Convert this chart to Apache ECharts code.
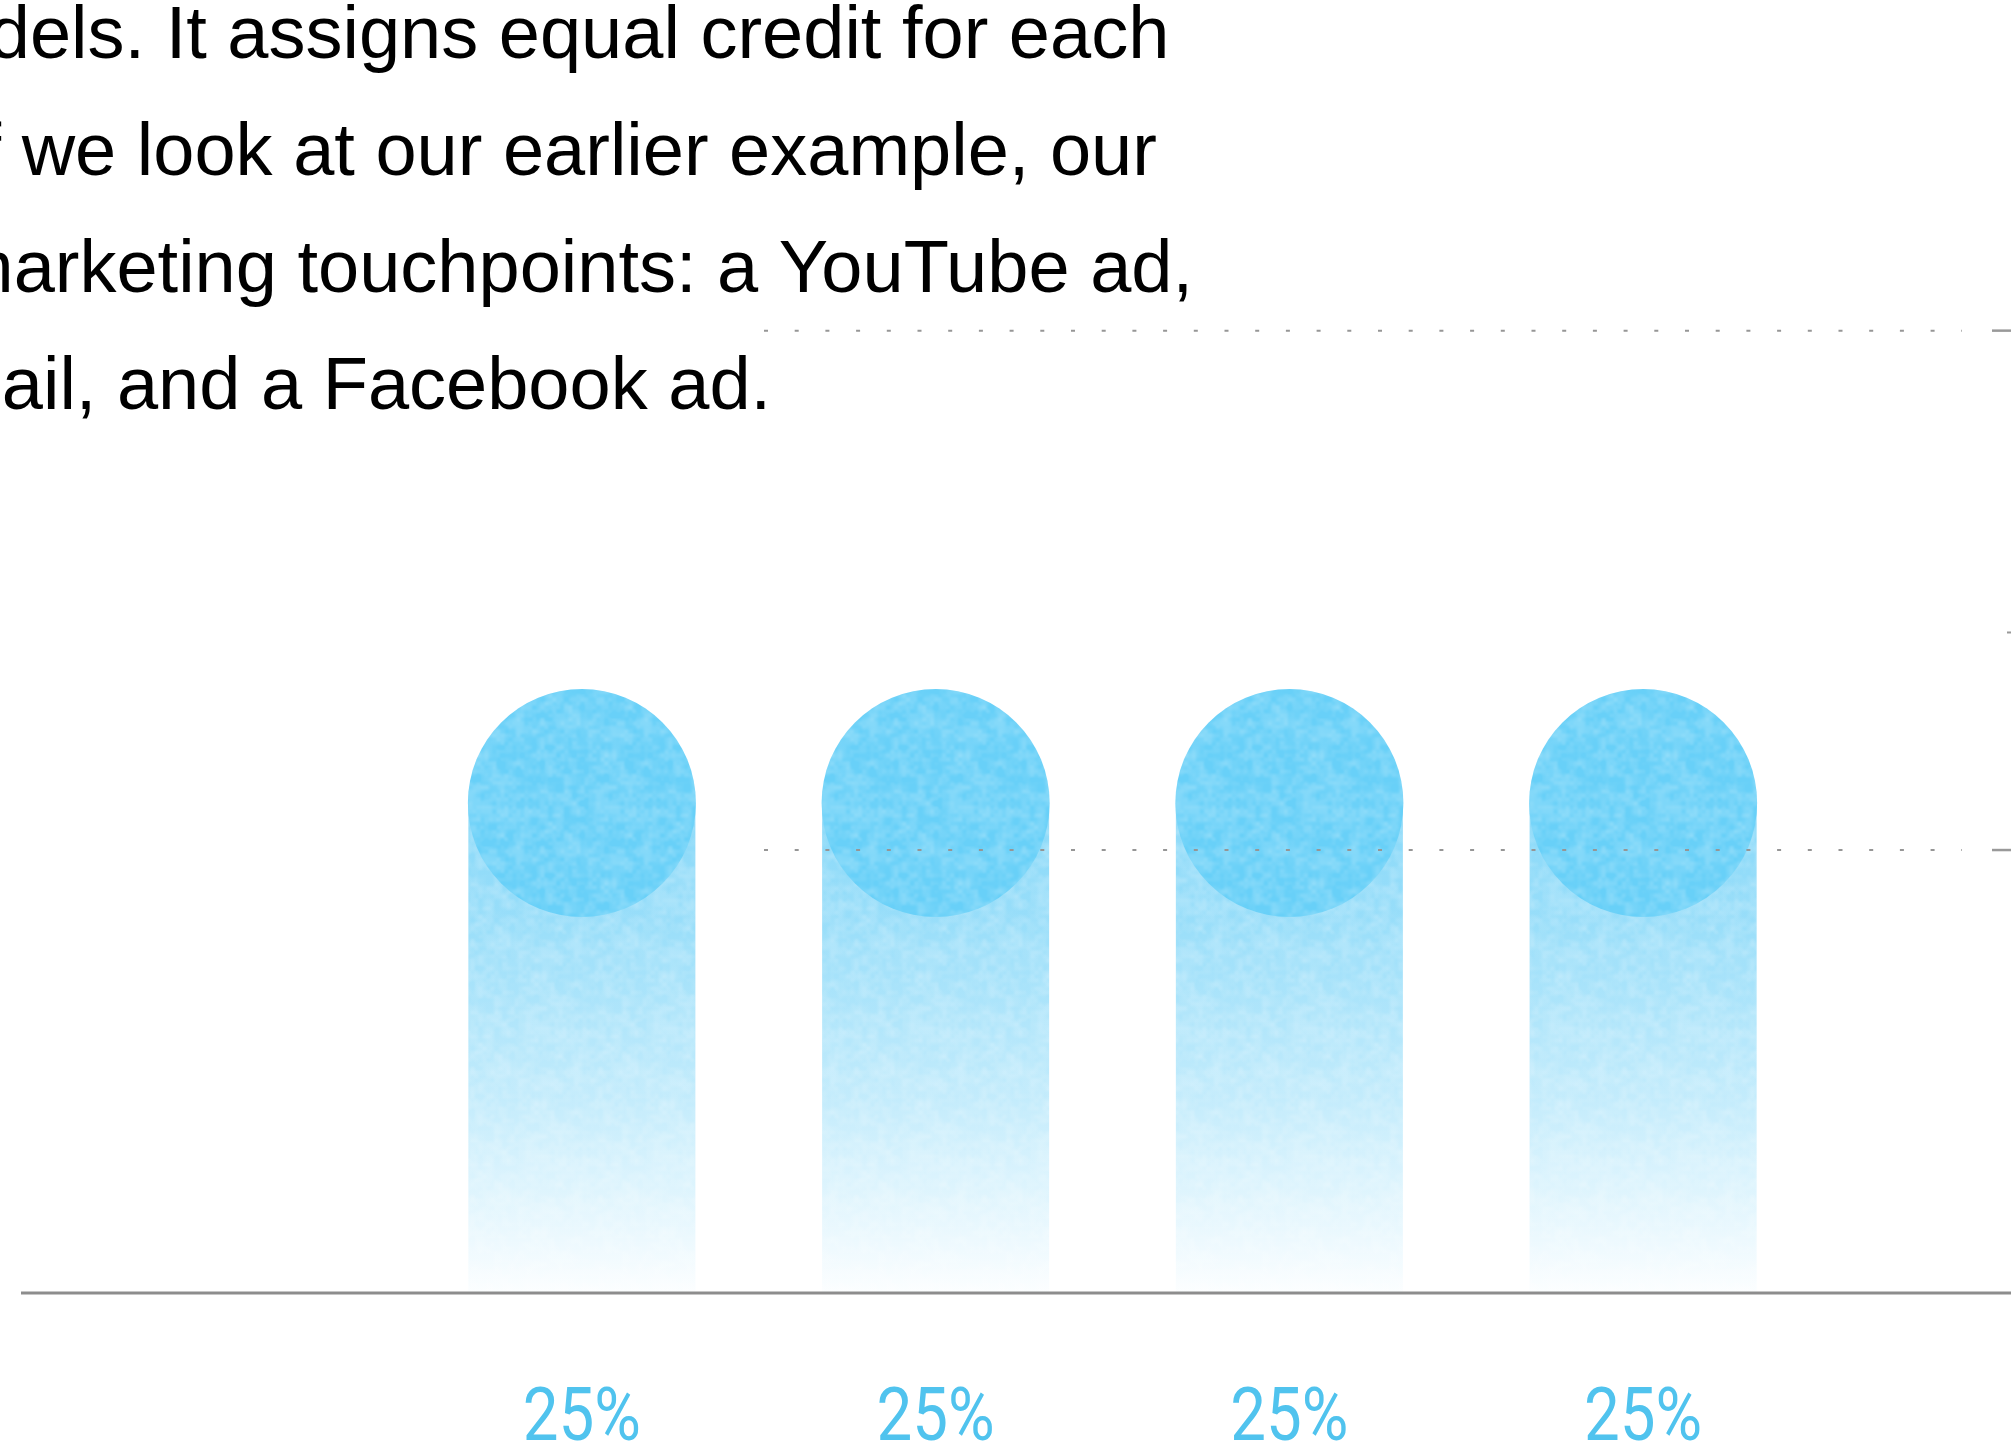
<!DOCTYPE html>
<html>
<head>
<meta charset="utf-8">
<style>
  html, body { margin: 0; padding: 0; background: #ffffff; }
  #chart { width: 2011px; height: 1443px; }
</style>
<script src="https://cdn.jsdelivr.net/npm/echarts@6/dist/echarts.min.js"></script>
</head>
<body>
<div id="chart"></div>
<script>
// Linear attribution: every touchpoint gets the same share of credit.
const touchpoints = ['Touchpoint 1', 'Touchpoint 2', 'Touchpoint 3', 'Touchpoint 4'];
const credit = [25, 25, 25, 25];

// Reference levels on the credit scale (dotted guides and their end ticks).
const guideLevels = [49.1, 22.6];
const minorTickLevels = [33.7];

// Paragraph running above the chart.
const paragraphLines = [
  'models. It assigns equal credit for each',
  'If we look at our earlier example, our',
  'marketing touchpoints: a YouTube ad,',
  'email, and a Facebook ad.'
];

const BLUE = '88,201,246';
const CAP_SIZE = 228;

// Soft paper-like grain used as a light overlay on the bars and caps.
function grainTile(size, cell, strength) {
  const canvas = document.createElement('canvas');
  canvas.width = canvas.height = size;
  const ctx = canvas.getContext('2d');
  const img = ctx.createImageData(size, size);
  const smooth = t => t * t * (3 - 2 * t);
  function layer(x, y, c) {
    const n = size / c;
    const hash = (i, j) => {
      i = ((i % n) + n) % n; j = ((j % n) + n) % n;
      const s = Math.sin(i * 127.1 + j * 311.7) * 43758.5453;
      return s - Math.floor(s);
    };
    const fx = x / c, fy = y / c;
    const i = Math.floor(fx), j = Math.floor(fy);
    const tx = smooth(fx - i), ty = smooth(fy - j);
    const a = hash(i, j), b = hash(i + 1, j), d = hash(i, j + 1), e = hash(i + 1, j + 1);
    return (a * (1 - tx) + b * tx) * (1 - ty) + (d * (1 - tx) + e * tx) * ty;
  }
  for (let y = 0; y < size; y++) {
    for (let x = 0; x < size; x++) {
      const v = 0.6 * layer(x, y, cell) + 0.4 * layer(x, y, cell / 2);
      const k = (y * size + x) * 4;
      img.data[k] = 255; img.data[k + 1] = 255; img.data[k + 2] = 255;
      img.data[k + 3] = Math.round(255 * strength * Math.max(0, v - 0.25) / 0.75);
    }
  }
  ctx.putImageData(img, 0, 0);
  return canvas;
}
const grainCanvas = grainTile(128, 8, 0.34);
const grain = { image: grainCanvas, repeat: 'repeat' };
// Symbols are drawn as a unit shape scaled up, so the tile is scaled back down.
const capGrain = {
  image: grainCanvas, repeat: 'repeat',
  scaleX: 2 / CAP_SIZE, scaleY: 2 / CAP_SIZE
};

const chart = echarts.init(document.getElementById('chart'), null, { renderer: 'canvas' });

chart.setOption({
  animation: false,
  backgroundColor: '#ffffff',
  grid: { left: 405, right: 191, top: 313, bottom: 150 },
  xAxis: { type: 'category', data: touchpoints, show: false },
  yAxis: { type: 'value', min: 0, max: 50, show: false },
  series: [
    {
      type: 'bar',
      data: credit,
      barWidth: 227,
      z: 2,
      itemStyle: {
        color: {
          type: 'linear', x: 0, y: 0, x2: 0, y2: 1,
          colorStops: [
            { offset: 0, color: 'rgba(' + BLUE + ',0.70)' },
            { offset: 0.23, color: 'rgba(' + BLUE + ',0.62)' },
            { offset: 0.6, color: 'rgba(' + BLUE + ',0.36)' },
            { offset: 0.87, color: 'rgba(' + BLUE + ',0.13)' },
            { offset: 1, color: 'rgba(' + BLUE + ',0.02)' }
          ]
        }
      }
    },
    {
      type: 'bar',
      data: credit,
      barWidth: 227,
      barGap: '-100%',
      z: 3,
      silent: true,
      itemStyle: { color: grain, opacity: 0.8 }
    },
    {
      type: 'scatter',
      data: credit,
      symbol: 'circle',
      symbolSize: CAP_SIZE,
      z: 4,
      silent: true,
      itemStyle: { color: 'rgb(104,208,248)', opacity: 1 }
    },
    {
      type: 'scatter',
      data: credit,
      symbol: 'circle',
      symbolSize: CAP_SIZE,
      z: 5,
      silent: true,
      itemStyle: { color: capGrain, opacity: 0.8 }
    }
  ]
});

// Decorations tied to the chart's scales.
const yPix = v => chart.convertToPixel({ yAxisIndex: 0 }, v);
const xPix = c => chart.convertToPixel({ xAxisIndex: 0 }, c);
const graphics = [];

const lineX = [-114, -40, -48, -101];
paragraphLines.forEach((line, i) => {
  graphics.push({
    type: 'text', z: 50,
    style: {
      text: line, x: lineX[i], y: 38 + i * 117,
      fill: '#000000',
      fontSize: 74,
      fontFamily: "'Liberation Sans', 'Helvetica', sans-serif",
      verticalAlign: 'middle'
    }
  });
});

const base = yPix(0);
graphics.push({
  type: 'line', z: 60,
  shape: { x1: 21, y1: base, x2: 2011, y2: base },
  style: { stroke: '#8d8d8d', lineWidth: 3 }
});

guideLevels.forEach(v => {
  const y = yPix(v);
  graphics.push({
    type: 'line', z: 60,
    shape: { x1: 764, y1: y, x2: 1962, y2: y },
    style: { stroke: '#969696', lineWidth: 2, lineDash: [4, 26.7] }
  });
  graphics.push({
    type: 'line', z: 60,
    shape: { x1: 1992, y1: y, x2: 2011, y2: y },
    style: { stroke: '#999999', lineWidth: 2.5 }
  });
});

minorTickLevels.forEach(v => {
  const y = yPix(v);
  graphics.push({
    type: 'line', z: 60,
    shape: { x1: 2007, y1: y, x2: 2011, y2: y },
    style: { stroke: '#999999', lineWidth: 2 }
  });
});

// Value labels under the baseline, one per bar, slightly condensed.
touchpoints.forEach((name, i) => {
  graphics.push({
    type: 'text', z: 60,
    x: xPix(name), y: base + 128,
    scaleX: 0.86,
    style: {
      text: credit[i] + '%',
      x: 0, y: 0,
      fill: '#50c3ee',
      fontSize: 74,
      fontWeight: 400,
      fontFamily: "'Roboto', 'Liberation Sans', sans-serif",
      align: 'center',
      verticalAlign: 'middle'
    }
  });
});

chart.setOption({ graphic: graphics });
</script>
</body>
</html>
